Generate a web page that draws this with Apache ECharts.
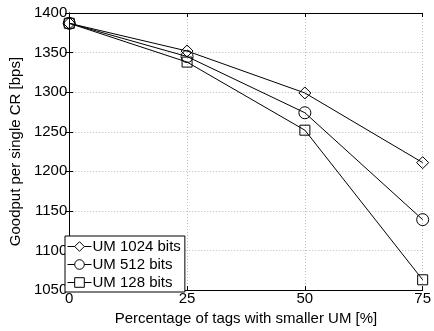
<!DOCTYPE html>
<html>
<head>
<meta charset="utf-8">
<script src="https://cdn.jsdelivr.net/npm/echarts@6/dist/echarts.min.js"></script>
<style>
  html, body { margin: 0; padding: 0; background: #fff; }
  #chart { width: 434px; height: 331px; }
</style>
</head>
<body>
<div id="chart"></div>
<script>
// values
const xValues = [0, 25, 50, 75];
const um1024 = [1387, 1352, 1299, 1211];
const um512 = [1387, 1345, 1274, 1139];
const um128 = [1387, 1338, 1252, 1063];
const seriesNames = ['UM 1024 bits', 'UM 512 bits', 'UM 128 bits'];
const seriesSymbols = ['diamond', 'circle', 'rect'];

const chart = echarts.init(document.getElementById('chart'));
const font = 'Liberation Sans, Arial, Helvetica, sans-serif';

const pairs = (ys) => xValues.map((x, i) => [x, ys[i]]);

const series = [um1024, um512, um128].map((ys, i) => ({
  name: seriesNames[i],
  type: 'line',
  data: pairs(ys),
  symbol: seriesSymbols[i],
  symbolSize: seriesSymbols[i] === 'rect' ? 10 : 12,
  showSymbol: true,
  lineStyle: { color: '#000', width: 1 },
  itemStyle: { color: 'rgba(255,255,255,0)', borderColor: '#000', borderWidth: 1 },
  emphasis: { disabled: true },
  z: 3,
}));

const option = {
  animation: false,
  grid: { left: 63, right: 9, top: 13, bottom: 34 },
  legend: {
    orient: 'vertical',
    left: 65,
    top: 236,
    itemGap: 3,
    itemWidth: 24,
    itemHeight: 12,
    padding: [3, 4, 2, 2],
    borderColor: '#000',
    borderWidth: 1,
    backgroundColor: '#fff',
    itemStyle: { color: '#fff', borderColor: '#000', borderWidth: 1 },
    lineStyle: { color: '#000', width: 1 },
    textStyle: { fontFamily: font, fontSize: 15, color: '#000', padding: [0, 0, 0, -4] },
    data: seriesNames,
  },
  xAxis: [{
    type: 'value',
    min: 0,
    max: 75,
    interval: 25,
    name: 'Percentage of tags with smaller UM [%]',
    nameLocation: 'middle',
    nameGap: 16,
    nameTextStyle: { fontFamily: font, fontSize: 15, color: '#000' },
    axisLine: { lineStyle: { color: '#000', width: 1 } },
    axisTick: { inside: true, length: 4, lineStyle: { color: '#000' } },
    axisLabel: { fontFamily: font, fontSize: 15, color: '#000', margin: 1 },
    splitLine: { show: true, lineStyle: { color: '#bbb', type: [1, 2], width: 1 } },
  }, {
    type: 'value',
    position: 'top',
    min: 0,
    max: 75,
    interval: 25,
    axisLine: { lineStyle: { color: '#000', width: 1 } },
    axisTick: { inside: true, length: 4, lineStyle: { color: '#000' } },
    axisLabel: { show: false },
    splitLine: { show: false },
  }],
  yAxis: [{
    type: 'value',
    min: 1050,
    max: 1400,
    interval: 50,
    name: 'Goodput per single CR [bps]',
    nameLocation: 'middle',
    nameGap: 42,
    nameTextStyle: { fontFamily: font, fontSize: 15, color: '#000' },
    axisLine: { show: true, lineStyle: { color: '#000', width: 1 } },
    axisTick: { show: true, inside: true, length: 4, lineStyle: { color: '#000' } },
    axisLabel: { fontFamily: font, fontSize: 15, color: '#000', margin: 2, formatter: (v) => String(v) },
    splitLine: { show: true, lineStyle: { color: '#bbb', type: [1, 2], width: 1 } },
  }, {
    type: 'value',
    position: 'right',
    min: 1050,
    max: 1400,
    interval: 50,
    axisLine: { show: true, lineStyle: { color: '#000', width: 1 } },
    axisTick: { show: true, inside: true, length: 4, lineStyle: { color: '#000' } },
    axisLabel: { show: false },
    splitLine: { show: false },
  }],
  series,
};

chart.setOption(option);
</script>
</body>
</html>
